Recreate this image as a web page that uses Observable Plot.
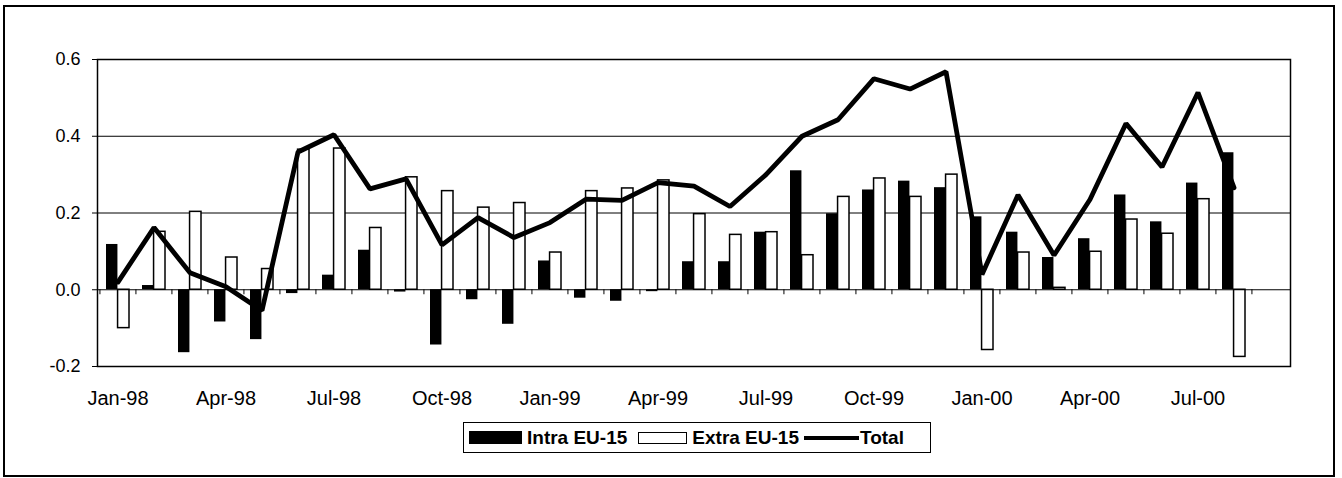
<!DOCTYPE html>
<html><head><meta charset="utf-8">
<script src="https://cdn.jsdelivr.net/npm/d3@7"></script>
<script src="https://cdn.jsdelivr.net/npm/@observablehq/plot@0.6"></script>
<style>
body{margin:0;background:#fff;font-family:"Liberation Sans",Arial,sans-serif;}
#frame{position:absolute;left:3px;top:5px;width:1328px;height:468px;border:2px solid #000;background:#fff;}
#chart{position:absolute;left:0;top:0;}
#legend{position:absolute;left:458px;top:415px;width:466px;height:29px;border:1px solid #000;display:flex;align-items:center;font-weight:bold;font-size:19px;color:#000;box-sizing:content-box;}
.sw{display:inline-block;flex:none;}
</style></head><body>
<div id="frame"><div id="chart"></div>
<div id="legend">
<span class="sw" style="width:53px;height:13px;background:#000;margin-left:5px;margin-right:5px"></span><span>Intra EU-15</span>
<span class="sw" style="width:47px;height:10px;border:1.5px solid #000;background:#fff;margin-left:11px;margin-right:5px"></span><span>Extra EU-15</span>
<span class="sw" style="width:55px;height:4px;background:#000;margin-left:5px;margin-right:1px"></span><span>Total</span>
</div></div>
<script>
const months = ["Jan-98","Feb-98","Mar-98","Apr-98","May-98","Jun-98","Jul-98","Aug-98","Sep-98","Oct-98","Nov-98","Dec-98",
"Jan-99","Feb-99","Mar-99","Apr-99","May-99","Jun-99","Jul-99","Aug-99","Sep-99","Oct-99","Nov-99","Dec-99",
"Jan-00","Feb-00","Mar-00","Apr-00","May-00","Jun-00","Jul-00","Aug-00","Sep-00"];
const intra = [0.118, 0.011, -0.164, -0.084, -0.13, -0.01, 0.038, 0.103, -0.006, -0.144, -0.026, -0.09,
0.075, -0.022, -0.03, -0.005, 0.073, 0.073, 0.15, 0.31, 0.198, 0.26, 0.283, 0.266,
0.19, 0.15, 0.084, 0.133, 0.247, 0.177, 0.278, 0.357];
const extra = [-0.10, 0.151, 0.203, 0.084, 0.054, 0.365, 0.368, 0.161, 0.293, 0.257, 0.214, 0.226,
0.097, 0.257, 0.264, 0.285, 0.197, 0.143, 0.15, 0.09, 0.242, 0.29, 0.242, 0.30,
-0.157, 0.097, 0.005, 0.099, 0.183, 0.146, 0.236, -0.175];
const total = [0.02, 0.162, 0.044, 0.008, -0.054, 0.359, 0.404, 0.263, 0.289, 0.117, 0.188, 0.136,
0.175, 0.236, 0.233, 0.279, 0.27, 0.217, 0.30, 0.40, 0.443, 0.55, 0.523, 0.568,
0.04, 0.247, 0.09, 0.235, 0.433, 0.32, 0.514, 0.266];
const xTickLabels = ["Jan-98","Apr-98","Jul-98","Oct-98","Jan-99","Apr-99","Jul-99","Oct-99","Jan-00","Apr-00","Jul-00"];
const yTicks = [-0.2, 0, 0.2, 0.4, 0.6];
const gridValues = [0.2, 0.4];

const rows = intra.map((v, i) => ({month: months[i], intra: v, extra: extra[i], total: total[i]}));

const W = 1328, ML = 92, MR = 43, PAD = 0.36;
const step = (W - ML - MR) / months.length;
const bw = step * (1 - PAD);

const chart = Plot.plot({
  width: W, height: 405,
  marginLeft: ML, marginRight: MR, marginTop: 52, marginBottom: 46,
  style: {fontFamily: "'Liberation Sans', Arial, sans-serif", fontSize: "18px", color: "#000", background: "#fff"},
  x: {type: "band", domain: months, paddingInner: PAD, paddingOuter: PAD / 2, align: 0.5},
  y: {domain: [-0.2, 0.6]},
  marks: [
    Plot.ruleY(gridValues, {stroke: "#000", strokeWidth: 1}),
    Plot.barY(rows, {x: "month", y: "intra", fill: "#000", insetRight: bw / 2}),
    Plot.barY(rows, {x: "month", y: "extra", fill: "#fff", stroke: "#000", strokeWidth: 1.5, insetLeft: bw / 2}),
    Plot.ruleY([0], {stroke: "#000", strokeWidth: 1}),
    Plot.ruleX(months, {x: d => d, y1: 0, y2: 0, insetBottom: -5, dx: -step / 2, stroke: "#000", strokeWidth: 1}),
    Plot.line(rows, {x: "month", y: "total", stroke: "#000", strokeWidth: 4.8, strokeLinejoin: "miter"}),
    Plot.frame({stroke: "#000", strokeWidth: 1.5}),
    Plot.axisY({ticks: yTicks, tickFormat: d => d.toFixed(1), tickSize: 5, tickPadding: 12, label: null, fontSize: 18}),
    Plot.axisX({ticks: xTickLabels, tickSize: 0, tickPadding: 24, label: null, fontSize: 20})
  ]
});
document.getElementById("chart").appendChild(chart);
</script>
</body></html>
